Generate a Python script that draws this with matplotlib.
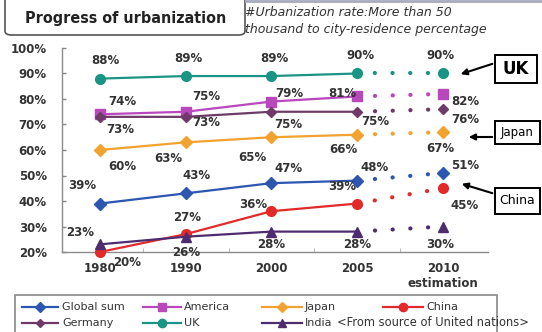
import matplotlib
matplotlib.use("Agg")
import matplotlib.pyplot as plt
from matplotlib.lines import Line2D
from matplotlib.patches import Rectangle, FancyBboxPatch

W, H = 542, 332

# ---------------- data ----------------
years = ["1980", "1990", "2000", "2005", "2010\nestimation"]
global_sum = [39, 43, 47, 48, 51]
america = [74, 75, 79, 81, 82]
japan = [60, 63, 65, 66, 67]
china = [20, 27, 36, 39, 45]
germany = [73, 73, 75, 75, 76]
uk = [88, 89, 89, 90, 90]
india = [23, 26, 28, 28, 30]
yticks = [20, 30, 40, 50, 60, 70, 80, 90, 100]

# ---------------- style ----------------
series = [
    # name, values, color, marker, ms, label offsets (px, up positive)
    ("Global sum", global_sum, "#2d56b0", "D", 6,
     [(-18, 18), (11, 18), (17, 15), (17, 13), (22, 7)]),
    ("America", america, "#b848bc", "s", 7,
     [(22, 13), (21, 15), (18, 8), (-15, 3), (22, -8)]),
    ("Japan", japan, "#f2a22e", "D", 6,
     [(22, -17), (-17, -16), (-19, -20), (-14, -15), (-3, -16)]),
    ("China", china, "#e32a2a", "o", 7,
     [(27, -10), (1, 17), (-18, 7), (-15, 17), (22, -17)]),
    ("Germany", germany, "#6e3a68", "D", 5,
     [(20, -13), (21, -6), (17, -13), (18, -10), (22, -10)]),
    ("UK", uk, "#1a9484", "o", 7,
     [(5, 18), (3, 18), (3, 18), (3, 18), (-3, 18)]),
    ("India", india, "#4e2c70", "^", 7,
     [(-20, 12), (0, -16), (0, -13), (0, -13), (-3, -18)]),
]
TXT = "#333333"


def fx(x):
    return x / W


def fy(y):
    return 1 - y / H


fig = plt.figure(figsize=(W / 100, H / 100), dpi=100)
fig.patch.set_facecolor("white")

ax_left, ax_right, ax_bottom, ax_top = 62, 488, 252, 48
ax = fig.add_axes([fx(ax_left), fy(ax_bottom), (ax_right - ax_left) / W,
                   (ax_bottom - ax_top) / H])
ax.set_facecolor("none")

x = list(range(len(years)))
for name, vals, col, mk, ms, offs in series:
    ax.plot(x[:4], vals[:4], color=col, lw=1.6, marker=mk, ms=ms,
            mec=col, mfc=col, clip_on=False, zorder=3)
    ax.plot(x[3:], vals[3:], color=col, lw=3.0, linestyle=(0, (0.05, 4.2)),
            dash_capstyle="round", clip_on=False, zorder=2)
    ax.plot(x[4:], vals[4:], color=col, lw=0, marker=mk, ms=ms,
            mec=col, mfc=col, clip_on=False, zorder=3)
    for i, v in enumerate(vals):
        dx, dy = offs[i]
        ax.annotate(f"{v}%", (x[i], v), xytext=(dx * 0.72, dy * 0.72),
                    textcoords="offset points", ha="center", va="center",
                    fontsize=8.5, color=TXT, fontweight="bold", zorder=5,
                    annotation_clip=False)

ax.set_xlim(-0.443, 4.525)
ax.set_ylim(20, 100)
ax.set_yticks(yticks)
ax.set_yticklabels([f"{t}%" for t in yticks], fontsize=8.5, color=TXT,
                   fontweight="bold")
ax.set_xticks(x)
ax.set_xticklabels(years, fontsize=8.5, color=TXT, linespacing=1.25)
ax.set_xticks([0.5, 1.5, 2.5, 3.5], minor=True)
ax.tick_params(axis="y", direction="in", length=3, width=1, color="#888888",
               pad=11)
ax.tick_params(axis="x", which="major", length=0, pad=7)
ax.tick_params(axis="x", which="minor", direction="in", length=3,
               color="#aaaaaa")
for s in ["top", "right"]:
    ax.spines[s].set_visible(False)
for s in ["left", "bottom"]:
    ax.spines[s].set_color("#8a8a8a")
    ax.spines[s].set_linewidth(1.0)
for lab in ax.get_xticklabels():
    lab.set_fontweight("bold")

# ---------------- title box ----------------
fig.add_artist(FancyBboxPatch((fx(5), fy(35)), fx(240), 45 / H,
                              boxstyle="round,pad=0,rounding_size=0.012",
                              transform=fig.transFigure, fc="white",
                              ec="#555555", lw=1.2))
fig.text(fx(126), fy(19), "Progress of urbanization", fontsize=11.5,
         fontweight="bold", color="#222222", ha="center", va="center",
         fontstretch="condensed")
fig.add_artist(Line2D([fx(246), 1], [fy(1), fy(1)], color="#a6aabb", lw=2,
                      transform=fig.transFigure))
fig.text(fx(245), fy(12), "#Urbanization rate:More than 50", fontsize=9,
         style="italic", color="#333333", ha="left", va="center")
fig.text(fx(245), fy(30), "thousand to city-residence percentage",
         fontsize=9, style="italic", color="#333333", ha="left", va="center")

# ---------------- callout boxes ----------------
callouts = [
    ("UK", (495, 55, 42, 28), 12, (495, 63), (458, 75)),
    ("Japan", (495, 121, 45, 23), 8.5, (495, 137), (466, 137)),
    ("China", (495, 188, 45, 26), 9, (495, 194), (459, 183)),
]
for txt, (bx, by, bw, bh), fs, p0, p1 in callouts:
    fig.add_artist(Rectangle((fx(bx), fy(by + bh)), bw / W, bh / H,
                             transform=fig.transFigure, fc="white",
                             ec="black", lw=1.4))
    fig.text(fx(bx + bw / 2), fy(by + bh / 2), txt, fontsize=fs,
             fontweight="bold" if txt == "UK" else "normal",
             ha="center", va="center", color="black")
    fig.add_artist(matplotlib.patches.FancyArrowPatch(
        (fx(p0[0]), fy(p0[1])), (fx(p1[0]), fy(p1[1])),
        transform=fig.transFigure, arrowstyle="-|>", mutation_scale=9,
        color="black", lw=1.5))

# ---------------- legend ----------------
fig.add_artist(Rectangle((fx(15), fy(340)), 482 / W, 45 / H,
                         transform=fig.transFigure, fc="white",
                         ec="#888888", lw=1.2))
cols = [(22, 58, 40, 62), (143, 181, 162, 184), (262, 302, 282, 305),
        (383, 423, 403, 426)]
rows = [307, 323]
order = [(0, 0), (0, 1), (0, 2), (0, 3), (1, 0), (1, 1), (1, 2)]
for (name, vals, col, mk, ms, offs), (r, c) in zip(series, order):
    x0, x1, xm, xt = cols[c]
    yy = fy(rows[r])
    fig.add_artist(Line2D([fx(x0), fx(x1)], [yy, yy], color=col, lw=1.6,
                          transform=fig.transFigure))
    fig.add_artist(Line2D([fx(xm)], [yy], color=col, marker=mk,
                          ms=ms - 1, transform=fig.transFigure))
    fig.text(fx(xt), yy, name, fontsize=8, color=TXT, ha="left",
             va="center")
fig.text(fx(337), fy(rows[1]), "<From source of United nations>",
         fontsize=8.3, color=TXT, ha="left", va="center")

fig.savefig("out.png", dpi=100)
